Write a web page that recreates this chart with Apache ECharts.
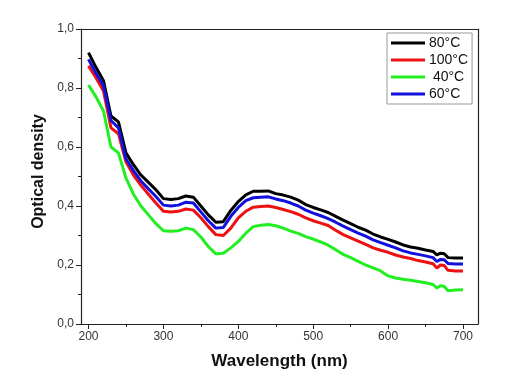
<!DOCTYPE html>
<html>
<head>
<meta charset="utf-8">
<script src="https://cdn.jsdelivr.net/npm/echarts@6/dist/echarts.min.js"></script>
<style>
  html, body { margin: 0; padding: 0; background: #fff; }
  #chart { width: 529px; height: 385px; }
</style>
</head>
<body>
<div id="chart"></div>
<script>
// wavelength (nm)
const wavelengths = [200, 210, 220, 230, 240, 250, 260, 270, 280, 290, 300, 310, 320, 330, 340, 350, 360, 370, 380, 390,
  400, 410, 420, 430, 440, 450, 460, 470, 480, 490, 500, 510, 520, 530, 540, 550, 560, 570, 580, 590,
  600, 610, 620, 630, 640, 650, 660, 665, 670, 675, 680, 690, 700];

// optical density for each temperature
const od80 = [0.92, 0.87, 0.825, 0.705, 0.685, 0.58, 0.54, 0.505, 0.48, 0.455, 0.425, 0.422, 0.425, 0.434, 0.43, 0.40, 0.37, 0.345, 0.347, 0.385,
  0.415, 0.438, 0.45, 0.45, 0.451, 0.442, 0.437, 0.43, 0.42, 0.405, 0.395, 0.387, 0.378, 0.365, 0.352, 0.34, 0.328, 0.318, 0.305, 0.295,
  0.287, 0.278, 0.268, 0.261, 0.257, 0.251, 0.246, 0.234, 0.24, 0.238, 0.225, 0.224, 0.224];
const od100 = [0.875, 0.835, 0.79, 0.665, 0.645, 0.55, 0.505, 0.47, 0.44, 0.41, 0.382, 0.38, 0.382, 0.39, 0.386, 0.36, 0.33, 0.303, 0.30, 0.325,
  0.36, 0.382, 0.396, 0.398, 0.40, 0.395, 0.388, 0.381, 0.372, 0.36, 0.35, 0.342, 0.334, 0.318, 0.303, 0.292, 0.281, 0.27, 0.258, 0.25,
  0.243, 0.234, 0.227, 0.222, 0.215, 0.21, 0.204, 0.19, 0.2, 0.198, 0.182, 0.18, 0.18];
const od40 = [0.81, 0.77, 0.722, 0.60, 0.58, 0.495, 0.44, 0.40, 0.37, 0.34, 0.316, 0.314, 0.316, 0.325, 0.32, 0.295, 0.262, 0.238, 0.24, 0.258,
  0.28, 0.308, 0.33, 0.335, 0.337, 0.333, 0.325, 0.315, 0.307, 0.296, 0.288, 0.278, 0.267, 0.252, 0.236, 0.225, 0.212, 0.20, 0.19, 0.18,
  0.163, 0.156, 0.152, 0.148, 0.144, 0.14, 0.134, 0.122, 0.13, 0.127, 0.113, 0.115, 0.116];
const od60 = [0.897, 0.85, 0.808, 0.69, 0.665, 0.56, 0.52, 0.485, 0.458, 0.432, 0.403, 0.40, 0.403, 0.413, 0.41, 0.38, 0.35, 0.325, 0.327, 0.365,
  0.395, 0.418, 0.428, 0.43, 0.431, 0.424, 0.418, 0.41, 0.40, 0.386, 0.376, 0.367, 0.357, 0.345, 0.332, 0.32, 0.308, 0.298, 0.285, 0.276,
  0.267, 0.258, 0.248, 0.241, 0.236, 0.231, 0.225, 0.212, 0.219, 0.218, 0.205, 0.203, 0.203];

const seriesNames = ['80°C', '100°C', ' 40°C', '60°C'];
const seriesColors = ['#000000', '#ee1111', '#22ee22', '#1111dd'];
const seriesData = [od80, od100, od40, od60];

const xMajorTicks = [200, 300, 400, 500, 600, 700];
const xMinorTicks = [250, 350, 450, 550, 650];

const font = 'Liberation Sans, Arial, sans-serif';
const axisColor = '#222';

var myChart = echarts.init(document.getElementById('chart'));
myChart.setOption({
  animation: false,
  backgroundColor: '#fff',
  textStyle: { fontFamily: font },
  grid: { left: 81, top: 29, right: 51, bottom: 61 },
  legend: {
    orient: 'vertical',
    left: 387,
    top: 33,
    data: seriesNames,
    icon: 'rect',
    itemWidth: 34,
    itemHeight: 3,
    itemGap: 3,
    padding: [3, 4, 3, 4],
    borderColor: '#999',
    borderWidth: 1,
    backgroundColor: '#fff',
    textStyle: { fontSize: 14, color: '#111', fontFamily: font, padding: [0, 0, 0, -1], lineHeight: 14 }
  },
  xAxis: [
    {
      type: 'value',
      min: 190,
      max: 720,
      name: 'Wavelength (nm)',
      nameLocation: 'middle',
      nameGap: 29,
      nameTextStyle: { fontSize: 17, fontWeight: 'bold', color: '#111' },
      axisLine: { show: true, lineStyle: { color: axisColor, width: 1.2 } },
      axisTick: { show: true, length: 5, customValues: xMajorTicks, lineStyle: { color: axisColor } },
      axisLabel: { customValues: xMajorTicks, fontSize: 12, color: '#333', margin: 7 },
      splitLine: { show: false }
    },
    {
      type: 'value',
      min: 190,
      max: 720,
      position: 'bottom',
      axisLine: { show: false },
      axisTick: { show: true, length: 3, customValues: xMinorTicks, lineStyle: { color: axisColor } },
      axisLabel: { show: false },
      splitLine: { show: false }
    },
    {
      type: 'value',
      min: 190,
      max: 720,
      position: 'top',
      axisLine: { show: true, onZero: false, lineStyle: { color: axisColor, width: 1.2 } },
      axisTick: { show: false },
      axisLabel: { show: false },
      splitLine: { show: false }
    }
  ],
  yAxis: [
    {
      type: 'value',
      min: 0,
      max: 1,
      interval: 0.2,
      name: 'Optical density',
      nameLocation: 'middle',
      nameGap: 34,
      nameTextStyle: { fontSize: 16, fontWeight: 'bold', color: '#111', padding: [0, 0, 0, 10] },
      axisLine: { show: true, lineStyle: { color: axisColor, width: 1.2 } },
      axisTick: { show: true, length: 5, lineStyle: { color: axisColor } },
      minorTick: { show: true, splitNumber: 2, length: 3, lineStyle: { color: axisColor } },
      axisLabel: {
        fontSize: 12, color: '#333', margin: 7,
        formatter: v => v.toFixed(1).replace('.', ',')
      },
      splitLine: { show: false }
    },
    {
      type: 'value',
      min: 0,
      max: 1,
      position: 'right',
      axisLine: { show: true, onZero: false, lineStyle: { color: axisColor, width: 1.2 } },
      axisTick: { show: false },
      axisLabel: { show: false },
      splitLine: { show: false }
    }
  ],
  series: seriesNames.map((name, i) => ({
    name: name,
    type: 'line',
    xAxisIndex: 0,
    yAxisIndex: 0,
    showSymbol: false,
    symbol: 'none',
    color: seriesColors[i],
    lineStyle: { width: 3, color: seriesColors[i] },
    data: wavelengths.map((w, j) => [w, seriesData[i][j]])
  }))
});
</script>
</body>
</html>
